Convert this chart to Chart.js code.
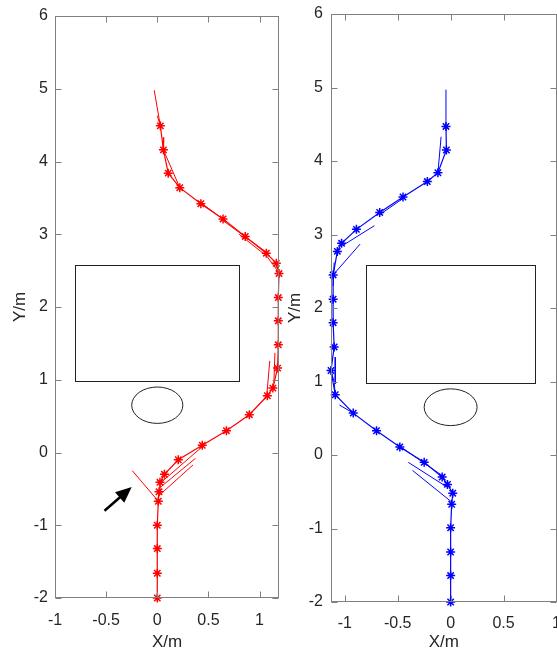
<!DOCTYPE html>
<html>
<head>
<meta charset="utf-8">
<script src="https://cdn.jsdelivr.net/npm/chart.js@4"></script>
<style>
  html, body { margin: 0; padding: 0; background: #fff; overflow: hidden; }
  #wrap { position: relative; width: 557px; height: 650px; overflow: hidden; background: #fff; }
  canvas { position: absolute; top: 0; }
  #leftChart { left: 0; }
  #rightChart { left: 280px; }
</style>
</head>
<body>
<div id="wrap">
  <canvas id="leftChart" width="290" height="650"></canvas>
  <canvas id="rightChart" width="290" height="650"></canvas>
</div>
<script>
// axis ticks
const yTicks = [-2, -1, 0, 1, 2, 3, 4, 5, 6];
const xTicks = [-1, -0.5, 0, 0.5, 1];

// obstacles (data units): rectangle [x1, y1, x2, y2], circle [cx, cy, r]
const obstacleRect = [-0.8, 0.98, 0.8, 2.58];
const obstacleCircle = [0, 0.65, 0.25];

// red trajectory (left)
const redPathX = [0, 0, 0, 0, 0.01, 0.017, 0.026, 0.07, 0.205, 0.44, 0.676, 0.90, 1.076, 1.13, 1.176, 1.183, 1.183, 1.183, 1.19, 1.164, 1.066, 0.86, 0.643, 0.426, 0.22, 0.107, 0.06, 0.03];
const redPathY = [-2, -1.66, -1.32, -1.0, -0.67, -0.54, -0.41, -0.30, -0.10, 0.10, 0.30, 0.52, 0.78, 0.885, 1.16, 1.48, 1.81, 2.13, 2.46, 2.60, 2.74, 2.97, 3.21, 3.42, 3.64, 3.84, 4.16, 4.49];
const redSegments = [
  [[0.03, 4.49], [-0.03, 4.98]],
  [[0.0, 4.63], [0.03, 4.49]],
  [[0.065, 4.33], [0.06, 4.16], [0.22, 3.64]],
  [[0.39, 3.47], [0.66, 3.19]],
  [[0.64, 3.19], [1.06, 2.76]],
  [[0.80, 3.0], [1.07, 2.70], [1.19, 2.47]],
  [[1.15, 1.37], [1.14, 0.95]],
  [[1.10, 1.26], [1.07, 0.78]],
  [[0.03, -0.42], [0.44, 0.08]],
  [[0.374, -0.08], [0.02, -0.49]],
  [[0.35, -0.17], [0.01, -0.60]],
  [[-0.244, -0.25], [0.01, -0.67]]
];
const arrowFrom = [-0.516, -0.80];
const arrowTo = [-0.25, -0.475];

// blue trajectory (right)
const bluePathX = [0, 0, 0, 0, 0.01, 0.02, -0.03, -0.08, -0.25, -0.48, -0.70, -0.92, -1.09, -1.13, -1.10, -1.11, -1.11, -1.11, -1.07, -1.03, -0.89, -0.67, -0.45, -0.22, -0.12, -0.04, -0.044];
const bluePathY = [-2, -1.64, -1.32, -0.99, -0.67, -0.52, -0.40, -0.30, -0.10, 0.11, 0.33, 0.57, 0.82, 1.15, 1.47, 1.80, 2.12, 2.45, 2.77, 2.88, 3.07, 3.30, 3.51, 3.72, 3.84, 4.15, 4.47];
const blueSegments = [
  [[-0.044, 4.47], [-0.044, 4.97]],
  [[-0.09, 4.33], [-0.12, 3.84]],
  [[-0.66, 3.28], [-0.45, 3.49]],
  [[-0.72, 3.12], [-1.02, 2.85]],
  [[-0.855, 2.87], [-1.11, 2.45]],
  [[-1.10, 2.62], [-1.11, 2.30]],
  [[-1.09, 1.33], [-1.09, 0.97]],
  [[-1.09, 0.82], [-1.10, 0.99], [-1.13, 1.15]],
  [[-1.05, 0.68], [-0.92, 0.57]],
  [[-0.45, 0.09], [-0.08, -0.28]],
  [[-0.40, -0.10], [-0.03, -0.44]],
  [[-0.36, -0.21], [0.01, -0.64]]
];

const boxColor = '#808080';
const textColor = '#262626';
const fontFamily = '"Liberation Sans", Arial, Helvetica, sans-serif';

// draws obstacles, the box with inward ticks, and the optional arrow
const matlabAxes = {
  id: 'matlabAxes',
  beforeDatasetsDraw(chart) {
    const ctx = chart.ctx;
    const xs = chart.scales.x, ys = chart.scales.y;
    ctx.save();
    ctx.strokeStyle = '#222';
    ctx.lineWidth = 1;
    const x1 = xs.getPixelForValue(obstacleRect[0]);
    const x2 = xs.getPixelForValue(obstacleRect[2]);
    const y1 = ys.getPixelForValue(obstacleRect[1]);
    const y2 = ys.getPixelForValue(obstacleRect[3]);
    ctx.strokeRect(Math.round(x1) + 0.5, Math.round(y2) + 0.5, Math.round(x2 - x1), Math.round(y1 - y2));
    const cx = xs.getPixelForValue(obstacleCircle[0]);
    const cy = ys.getPixelForValue(obstacleCircle[1]);
    const rx = Math.abs(xs.getPixelForValue(obstacleCircle[0] + obstacleCircle[2]) - cx);
    const ry = Math.abs(ys.getPixelForValue(obstacleCircle[1] + obstacleCircle[2]) - cy);
    ctx.beginPath();
    ctx.ellipse(cx, cy, rx, ry, 0, 0, Math.PI * 2);
    ctx.stroke();
    ctx.restore();
  },
  afterDatasetsDraw(chart, args, opts) {
    const ctx = chart.ctx;
    const a = chart.chartArea;
    const xs = chart.scales.x, ys = chart.scales.y;
    const tl = 6;
    ctx.save();
    ctx.strokeStyle = boxColor;
    ctx.lineWidth = 1;
    const L = Math.round(a.left) + 0.5, R = Math.round(a.right) - 0.5;
    const T = Math.round(a.top) + 0.5, B = Math.round(a.bottom) - 0.5;
    ctx.strokeRect(L, T, R - L, B - T);
    ctx.beginPath();
    xs.ticks.forEach(t => {
      const px = Math.round(xs.getPixelForValue(t.value)) + 0.5;
      ctx.moveTo(px, B); ctx.lineTo(px, B - tl);
      ctx.moveTo(px, T); ctx.lineTo(px, T + tl);
    });
    ys.ticks.forEach(t => {
      const py = Math.round(ys.getPixelForValue(t.value)) + 0.5;
      ctx.moveTo(L, py); ctx.lineTo(L + tl, py);
      ctx.moveTo(R, py); ctx.lineTo(R - tl, py);
    });
    ctx.stroke();

    if (opts.arrow) {
      const [f, t] = opts.arrow;
      const fx = xs.getPixelForValue(f[0]), fy = ys.getPixelForValue(f[1]);
      const tx = xs.getPixelForValue(t[0]), ty = ys.getPixelForValue(t[1]);
      const ang = Math.atan2(ty - fy, tx - fx);
      const head = 16, half = 7;
      const bx = tx - head * Math.cos(ang), by = ty - head * Math.sin(ang);
      ctx.strokeStyle = '#000';
      ctx.fillStyle = '#000';
      ctx.lineWidth = 2.5;
      ctx.beginPath();
      ctx.moveTo(fx, fy);
      ctx.lineTo(bx + 2 * Math.cos(ang), by + 2 * Math.sin(ang));
      ctx.stroke();
      ctx.beginPath();
      ctx.moveTo(tx, ty);
      ctx.lineTo(bx + half * Math.sin(ang), by - half * Math.cos(ang));
      ctx.lineTo(bx - half * Math.sin(ang), by + half * Math.cos(ang));
      ctx.closePath();
      ctx.fill();
    }
    ctx.restore();
  }
};

function toPoints(xArr, yArr) {
  return xArr.map((x, i) => ({ x: x, y: yArr[i] }));
}

function buildDatasets(pathX, pathY, segments, color) {
  const sets = [{
    data: toPoints(pathX, pathY),
    showLine: true,
    borderColor: color,
    backgroundColor: color,
    borderWidth: 1.2,
    pointStyle: 'star',
    pointRadius: 4.5,
    pointBorderWidth: 1.5,
    pointBorderColor: color,
    tension: 0,
    clip: false
  }];
  segments.forEach(seg => {
    sets.push({
      data: seg.map(p => ({ x: p[0], y: p[1] })),
      showLine: true,
      borderColor: color,
      borderWidth: 1,
      pointRadius: 0,
      tension: 0,
      clip: false
    });
  });
  return sets;
}

function makeChart(id, opt) {
  const tickFont = { family: fontFamily, size: 16 };
  const titleFont = { family: fontFamily, size: 17 };
  return new Chart(document.getElementById(id), {
    type: 'scatter',
    data: { datasets: opt.datasets },
    options: {
      responsive: false,
      animation: false,
      events: [],
      layout: { padding: opt.padding },
      plugins: {
        legend: { display: false },
        tooltip: { enabled: false },
        matlabAxes: { arrow: opt.arrow }
      },
      scales: {
        x: {
          type: 'linear',
          min: opt.xMin,
          max: opt.xMax,
          grid: { display: false, drawTicks: false },
          border: { display: false },
          ticks: {
            color: textColor,
            font: tickFont,
            padding: opt.xPad,
            maxRotation: 0,
            autoSkip: false,
            callback: v => String(v)
          },
          afterBuildTicks: s => { s.ticks = xTicks.map(v => ({ value: v })); },
          afterFit: s => { s.height = opt.xHeight; s.paddingLeft = 0; s.paddingRight = 0; },
          title: { display: true, text: 'X/m', color: textColor, font: titleFont, padding: { top: 0, bottom: 0 } }
        },
        y: {
          type: 'linear',
          min: -2,
          max: 6,
          grid: { display: false, drawTicks: false },
          border: { display: false },
          ticks: {
            color: textColor,
            font: tickFont,
            padding: opt.yPad,
            autoSkip: false,
            callback: v => String(v)
          },
          afterBuildTicks: s => { s.ticks = yTicks.map(v => ({ value: v })); },
          afterFit: s => { s.width = opt.yWidth; s.paddingTop = 0; s.paddingBottom = 0; },
          title: { display: true, text: 'Y/m', color: textColor, font: titleFont, padding: { top: opt.yTitlePad, bottom: 0 } }
        }
      }
    },
    plugins: [matlabAxes]
  });
}

makeChart('leftChart', {
  datasets: buildDatasets(redPathX, redPathY, redSegments, '#ff0000'),
  xMin: -1, xMax: 1.19,
  padding: { left: 0, top: 16, right: 11, bottom: -3 },
  yWidth: 55, xHeight: 55,
  xPad: 13, yPad: 7, yTitlePad: 10,
  arrow: [arrowFrom, arrowTo]
});

makeChart('rightChart', {
  datasets: buildDatasets(bluePathX, bluePathY, blueSegments, '#0000ff'),
  xMin: -1.13, xMax: 1,
  padding: { left: 0, top: 14, right: 13.5, bottom: -3 },
  yWidth: 51, xHeight: 51,
  xPad: 12, yPad: 8, yTitlePad: 5,
  arrow: null
});
</script>
</body>
</html>
